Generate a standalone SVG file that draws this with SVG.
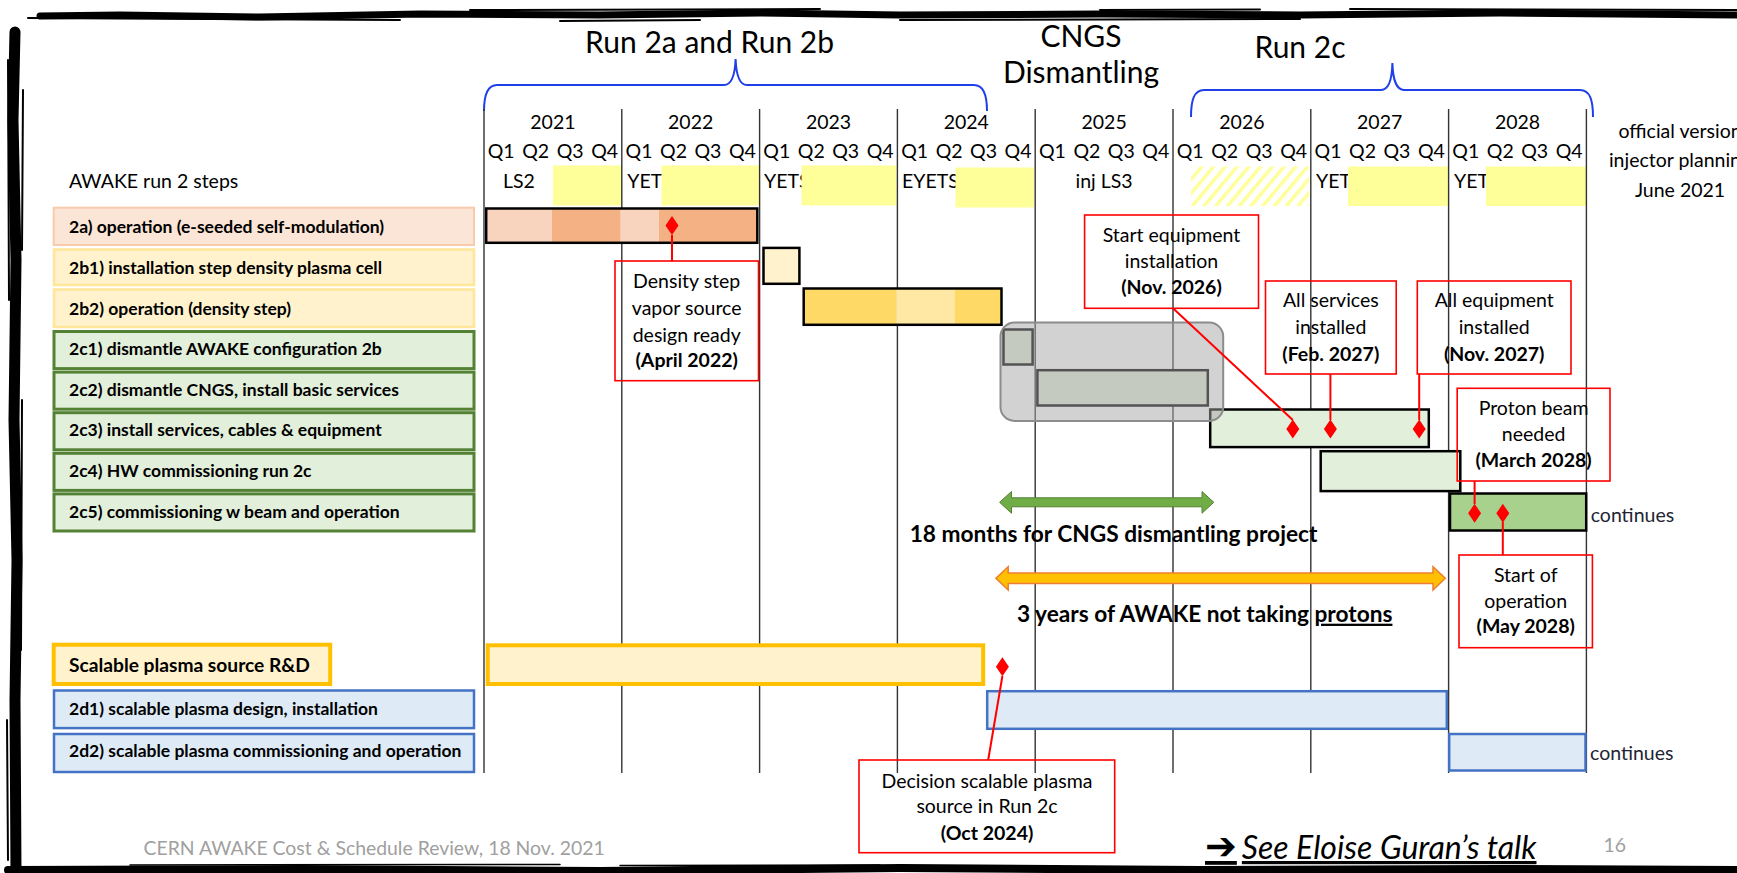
<svg xmlns="http://www.w3.org/2000/svg" width="1737" height="873" viewBox="0 0 1737 873">
<defs>
<style>
text{font-family:Lato,"Liberation Sans",sans-serif;fill:#000}
.title{font-size:30px;text-anchor:middle}
.yr{font-size:19.5px;text-anchor:middle}
.hdr{font-size:19.5px}
.side{font-size:19.5px;text-anchor:middle}
.lbl{font-size:17.5px;font-weight:bold}
.cl{font-size:19.5px;text-anchor:middle}
.b{font-weight:bold}
.big{font-size:22.7px;font-weight:bold}
.grid{stroke:#333;stroke-width:1.4}
.bar{stroke:#000;stroke-width:2.5}
.box{fill:none;stroke:#ff0000;stroke-width:1.6}
.lead{stroke:#ff0000;stroke-width:2;fill:none}
.ms{fill:#ff0000}
.brace{fill:none;stroke:#1f3fe8;stroke-width:2}
.yel{fill:#ffff99}
.peach{fill:#fbe5d6;stroke:#f8cbad;stroke-width:2}
.cream{fill:#fff2cc;stroke:#ffe699;stroke-width:2.5}
.green{fill:#e2efda;stroke:#548235;stroke-width:3}
.blue{fill:#deebf7;stroke:#4472c4;stroke-width:2.5}
.frame{fill:none;stroke:#000;stroke-linecap:round;stroke-linejoin:round}
.cont{font-size:19.5px;fill:#1e2433}
.foot{font-size:19.4px;fill:#a0a0a0}
</style>
<pattern id="hatch" width="9" height="9" patternUnits="userSpaceOnUse" patternTransform="rotate(40)">
<rect width="3.5" height="9" fill="#ffff99"/>
</pattern>
<path id="diamond" d="M0,-9.5 L6.5,0 L0,9.5 L-6.5,0 Z"/>
</defs>
<rect width="1737" height="873" fill="#fff"/>

<!-- hand-drawn frame -->
<g id="frame">
<path class="frame" stroke-width="7" d="M40,16 L120,15 L260,17 L420,14 L600,15 L760,13 L900,15 L1100,14 L1300,15 L1500,13 L1737,15"/>
<path class="frame" stroke-width="2" d="M28,18 L400,20 M470,10 L820,9 M560,21 L700,20 M900,20 L1300,19 M1350,9 L1737,10 M1100,10 L1260,9.5"/>
<path class="frame" stroke-width="11" d="M15,32 L13,120 L16,260 L14,420 L17,560 L15,700 L16,873"/>
<path class="frame" stroke-width="2" d="M8,60 L9,300 M22,400 L21,650 M7,720 L8,860 M23,90 L22,250"/>
<path class="frame" stroke-width="8" d="M8,870 L300,869 L600,871 L900,868 L1200,870 L1500,869 L1737,870"/>
<path class="frame" stroke-width="1.5" d="M130,865 L560,864.5 M620,865.5 L880,865"/>
</g>

<!-- section titles and braces -->
<g id="titles">
<text class="title" x="709.6" y="53">Run 2a and Run 2b</text>
<text class="title" x="1081" y="46.5">CNGS</text>
<text class="title" x="1081" y="83">Dismantling</text>
<text class="title" x="1300" y="58">Run 2c</text>
<path class="brace" d="M484,111 C484,95 487,85 497,85 L724,85 C731,85 735,75 735.6,59 C736.2,75 740,85 747,85 L974,85 C984,85 987,95 987,111"/>
<path class="brace" d="M1191,117 C1191,100 1194,90 1204,90 L1381,90 C1388,90 1392,80 1392.4,63 C1392.8,80 1397,90 1404,90 L1580,90 C1590,90 1593,100 1593,117"/>
</g>

<!-- timeline header -->
<g id="header">
<text class="yr" x="552.9" y="129">2021</text>
<text class="yr" x="690.7" y="129">2022</text>
<text class="yr" x="828.5" y="129">2023</text>
<text class="yr" x="966.3" y="129">2024</text>
<text class="yr" x="1104.1" y="129">2025</text>
<text class="yr" x="1241.9" y="129">2026</text>
<text class="yr" x="1379.7" y="129">2027</text>
<text class="yr" x="1517.5" y="129">2028</text>
<g class="yr">
<text class="yr" x="501.2" y="158">Q1</text><text class="yr" x="535.7" y="158">Q2</text><text class="yr" x="570.1" y="158">Q3</text><text class="yr" x="604.6" y="158">Q4</text>
<text class="yr" x="639" y="158">Q1</text><text class="yr" x="673.5" y="158">Q2</text><text class="yr" x="707.9" y="158">Q3</text><text class="yr" x="742.4" y="158">Q4</text>
<text class="yr" x="776.8" y="158">Q1</text><text class="yr" x="811.3" y="158">Q2</text><text class="yr" x="845.7" y="158">Q3</text><text class="yr" x="880.2" y="158">Q4</text>
<text class="yr" x="914.6" y="158">Q1</text><text class="yr" x="949.1" y="158">Q2</text><text class="yr" x="983.5" y="158">Q3</text><text class="yr" x="1018" y="158">Q4</text>
<text class="yr" x="1052.4" y="158">Q1</text><text class="yr" x="1086.9" y="158">Q2</text><text class="yr" x="1121.3" y="158">Q3</text><text class="yr" x="1155.8" y="158">Q4</text>
<text class="yr" x="1190.2" y="158">Q1</text><text class="yr" x="1224.7" y="158">Q2</text><text class="yr" x="1259.1" y="158">Q3</text><text class="yr" x="1293.6" y="158">Q4</text>
<text class="yr" x="1328" y="158">Q1</text><text class="yr" x="1362.5" y="158">Q2</text><text class="yr" x="1396.9" y="158">Q3</text><text class="yr" x="1431.4" y="158">Q4</text>
<text class="yr" x="1465.8" y="158">Q1</text><text class="yr" x="1500.3" y="158">Q2</text><text class="yr" x="1534.7" y="158">Q3</text><text class="yr" x="1569.2" y="158">Q4</text>
</g>
<text class="hdr" x="69" y="188">AWAKE run 2 steps</text>
<text class="hdr" x="503" y="188">LS2</text>
<text class="hdr" x="627.3" y="188">YETS</text>
<text class="hdr" x="764" y="188">YETS</text>
<text class="hdr" x="902" y="188">EYETS</text>
<text class="hdr" x="1075.5" y="188">inj LS3</text>
<text class="hdr" x="1316" y="188">YET</text>
<text class="hdr" x="1454" y="188">YET</text>
<!-- beam periods -->
<rect class="yel" x="552.9" y="165.5" width="68.9" height="40"/>
<rect class="yel" x="661.5" y="165.5" width="98.1" height="40"/>
<rect class="yel" x="801.5" y="165.5" width="95" height="40"/>
<rect class="yel" x="955.5" y="167.5" width="78.5" height="40"/>
<rect fill="url(#hatch)" x="1191" y="166.5" width="118" height="39.5"/>
<rect class="yel" x="1348" y="166.5" width="100.6" height="39.5"/>
<rect class="yel" x="1486" y="166.5" width="100" height="39.5"/>
<text class="side" x="1680" y="138">official version</text>
<text class="side" x="1680" y="167">injector planning</text>
<text class="side" x="1680" y="196.5">June 2021</text>
</g>

<!-- year separators -->
<g id="grid" class="grid">
<line x1="484" y1="109" x2="484" y2="773"/>
<line x1="621.8" y1="109" x2="621.8" y2="773"/>
<line x1="759.6" y1="109" x2="759.6" y2="773"/>
<line x1="897.4" y1="109" x2="897.4" y2="773"/>
<line x1="1035.2" y1="109" x2="1035.2" y2="773"/>
<line x1="1173" y1="109" x2="1173" y2="773"/>
<line x1="1310.8" y1="109" x2="1310.8" y2="773"/>
<line x1="1448.6" y1="109" x2="1448.6" y2="773"/>
<line x1="1586.4" y1="109" x2="1586.4" y2="773"/>
</g>

<!-- step labels -->
<g id="step-2a"><rect class="peach" x="53.7" y="207.7" width="420.3" height="37.3"/><text class="lbl" x="69" y="233.3">2a) operation (e-seeded self-modulation)</text></g>
<g id="step-2b1"><rect class="cream" x="54" y="249.5" width="420" height="35.5"/><text class="lbl" x="69" y="273.9">2b1) installation step density plasma cell</text></g>
<g id="step-2b2"><rect class="cream" x="54" y="289.5" width="420" height="37.5"/><text class="lbl" x="69" y="314.5">2b2) operation (density step)</text></g>
<g id="step-2c1"><rect class="green" x="54" y="331.5" width="420" height="37.1"/><text class="lbl" x="69" y="355.1">2c1) dismantle AWAKE configuration 2b</text></g>
<g id="step-2c2"><rect class="green" x="54" y="372.1" width="420" height="37.1"/><text class="lbl" x="69" y="395.7">2c2) dismantle CNGS, install basic services</text></g>
<g id="step-2c3"><rect class="green" x="54" y="412.7" width="420" height="37.1"/><text class="lbl" x="69" y="436.3">2c3) install services, cables &amp; equipment</text></g>
<g id="step-2c4"><rect class="green" x="54" y="453.3" width="420" height="37.1"/><text class="lbl" x="69" y="476.9">2c4) HW commissioning run 2c</text></g>
<g id="step-2c5"><rect class="green" x="54" y="493.9" width="420" height="37.1"/><text class="lbl" x="69" y="517.5">2c5) commissioning w beam and operation</text></g>
<g id="step-rd"><rect x="53.7" y="644.7" width="276.5" height="39.3" fill="#fff2cc" stroke="#ffc000" stroke-width="4"/><text class="lbl" x="69" y="671.7" style="font-size:19.2px">Scalable plasma source R&amp;D</text></g>
<g id="step-2d1"><rect class="blue" x="54" y="690.5" width="420" height="37.6"/><text class="lbl" x="69" y="715">2d1) scalable plasma design, installation</text></g>
<g id="step-2d2"><rect class="blue" x="54" y="734" width="420" height="38"/><text class="lbl" x="69" y="756.7">2d2) scalable plasma commissioning and operation</text></g>

<!-- schedule bars -->
<g id="bar-2a">
<rect x="486" y="208.5" width="65.8" height="34.3" fill="#f8d4be"/>
<rect x="551.8" y="208.5" width="68.9" height="34.3" fill="#f4b183"/>
<rect x="620.7" y="208.5" width="38.3" height="34.3" fill="#f8d4be"/>
<rect x="659" y="208.5" width="98.3" height="34.3" fill="#f4b183"/>
<rect class="bar" x="486.2" y="208.5" width="271.1" height="34.3" fill="none"/>
</g>
<g id="bar-2b1"><rect class="bar" x="763.5" y="247.9" width="35.9" height="35.9" fill="#fff2cc"/></g>
<g id="bar-2b2">
<rect x="803.7" y="288.5" width="92.6" height="36.3" fill="#ffd966"/>
<rect x="896.3" y="288.5" width="58.2" height="36.3" fill="#ffe8a3"/>
<rect x="954.5" y="288.5" width="47" height="36.3" fill="#ffd966"/>
<rect class="bar" x="803.7" y="288.5" width="197.8" height="36.3" fill="none"/>
</g>
<g id="bar-2c1"><rect class="bar" x="1003.5" y="329.5" width="29.1" height="35" fill="#e2efda"/></g>
<g id="bar-2c2"><rect class="bar" x="1037.4" y="370.2" width="170.4" height="35.3" fill="#e2efda"/></g>
<g id="bar-2c3"><rect class="bar" x="1210.2" y="409.5" width="218.6" height="37.6" fill="#e2efda"/></g>
<g id="bar-2c4"><rect class="bar" x="1320.7" y="451.2" width="139.6" height="39.9" fill="#e2efda"/></g>
<g id="bar-2c5"><rect class="bar" x="1450" y="493.5" width="136.2" height="37" fill="#a9d18e"/><text class="cont" x="1590.7" y="521.7">continues</text></g>
<g id="bar-rd"><rect x="487.7" y="645.3" width="495.5" height="38.7" fill="#fff2cc" stroke="#ffc000" stroke-width="4"/></g>
<g id="bar-2d1"><rect class="blue" x="987.2" y="691.2" width="459.6" height="37.6"/></g>
<g id="bar-2d2"><rect class="blue" x="1449.2" y="734" width="136.3" height="36.5"/><text class="cont" x="1590" y="760">continues</text></g>

<!-- CNGS dismantling highlight -->
<g id="cngs-highlight"><rect x="1000.5" y="322.5" width="222.7" height="98.4" rx="14" fill="#a6a6a6" fill-opacity="0.5" stroke="#8c8c8c" stroke-width="2"/></g>

<!-- duration arrows -->
<g id="dur-cngs">
<path d="M999.6,502.3 L1011.5,491.5 L1011.5,497.8 L1202,497.8 L1202,491.5 L1213.8,502.3 L1202,513.2 L1202,506.8 L1011.5,506.8 L1011.5,513.2 Z" fill="#70ad47" stroke="#548235" stroke-width="1"/>
<text class="big" x="909.7" y="541.7">18 months for CNGS dismantling project</text>
</g>
<g id="dur-noprotons">
<path d="M995.9,578.3 L1008.2,566.7 L1008.2,573 L1433,573 L1433,566.7 L1445.3,578.3 L1433,590 L1433,583.6 L1008.2,583.6 L1008.2,590 Z" fill="#ffc000" stroke="#ed7d31" stroke-width="1.5"/>
<text class="big" x="1017" y="621.7">3 years of AWAKE not taking <tspan text-decoration="underline">protons</tspan></text>
</g>

<!-- milestone leaders -->
<g id="connectors" class="lead">
<line x1="672" y1="235" x2="672" y2="261"/>
<line x1="1173" y1="308.3" x2="1292.8" y2="420"/>
<line x1="1330.4" y1="374" x2="1330.4" y2="420"/>
<line x1="1419.2" y1="374" x2="1419.2" y2="420"/>
<line x1="1474.6" y1="481" x2="1474.6" y2="504"/>
<line x1="1502.8" y1="522" x2="1502.8" y2="555"/>
<line x1="1002.4" y1="676" x2="988.2" y2="760"/>
</g>

<!-- milestones -->
<g id="milestones" class="ms">
<use href="#diamond" x="672" y="225.5"/>
<use href="#diamond" x="1292.8" y="429"/>
<use href="#diamond" x="1330.4" y="429"/>
<use href="#diamond" x="1419.2" y="429"/>
<use href="#diamond" x="1474.6" y="513.3"/>
<use href="#diamond" x="1502.8" y="513.3"/>
<use href="#diamond" x="1002.4" y="666.7"/>
</g>

<!-- milestone notes -->
<g id="note-density"><rect class="box" x="615" y="261" width="143.5" height="119.7"/>
<text class="cl" x="686.7" y="288.3">Density step</text><text class="cl" x="686.7" y="315">vapor source</text><text class="cl" x="686.7" y="341.7">design ready</text><text class="cl b" x="686.7" y="367.3">(April 2022)</text></g>
<g id="note-start-equip"><rect class="box" x="1084.6" y="215" width="173.9" height="93.3"/>
<text class="cl" x="1171.5" y="241.7">Start equipment</text><text class="cl" x="1171.5" y="268.3">installation</text><text class="cl b" x="1171.5" y="294.3">(Nov. 2026)</text></g>
<g id="note-services"><rect class="box" x="1265.5" y="281" width="130.7" height="93"/>
<text class="cl" x="1330.8" y="307.3">All services</text><text class="cl" x="1330.8" y="334">installed</text><text class="cl b" x="1330.8" y="360.7">(Feb. 2027)</text></g>
<g id="note-equipment"><rect class="box" x="1417.3" y="281" width="153.7" height="93"/>
<text class="cl" x="1494.2" y="307.3">All equipment</text><text class="cl" x="1494.2" y="334">installed</text><text class="cl b" x="1494.2" y="360.7">(Nov. 2027)</text></g>
<g id="note-proton"><rect class="box" x="1457.2" y="388.3" width="152.8" height="92.7"/>
<text class="cl" x="1533.6" y="415">Proton beam</text><text class="cl" x="1533.6" y="440.7">needed</text><text class="cl b" x="1533.6" y="466.7">(March 2028)</text></g>
<g id="note-operation"><rect class="box" x="1459" y="555" width="133.4" height="92.7"/>
<text class="cl" x="1525.7" y="581.7">Start of</text><text class="cl" x="1525.7" y="608.3">operation</text><text class="cl b" x="1525.7" y="633.3">(May 2028)</text></g>
<g id="note-decision"><rect class="box" x="859" y="760" width="255.7" height="92.7"/>
<text class="cl" x="987" y="788.3">Decision scalable plasma</text><text class="cl" x="987" y="813.3">source in Run 2c</text><text class="cl b" x="987" y="840">(Oct 2024)</text></g>

<!-- footer -->
<g id="footer">
<text class="foot" x="143.5" y="855">CERN AWAKE Cost &amp; Schedule Review, 18 Nov. 2021</text>
<text x="1205" y="859" text-decoration="underline" style="font-size:32px"><tspan style="font-family:'DejaVu Sans',sans-serif;font-size:38px;font-weight:bold">➔</tspan><tspan dx="5" style="font-style:italic">See Eloise Guran’s talk</tspan></text>
<text class="foot" x="1603.6" y="851.5">16</text>
</g>
</svg>
